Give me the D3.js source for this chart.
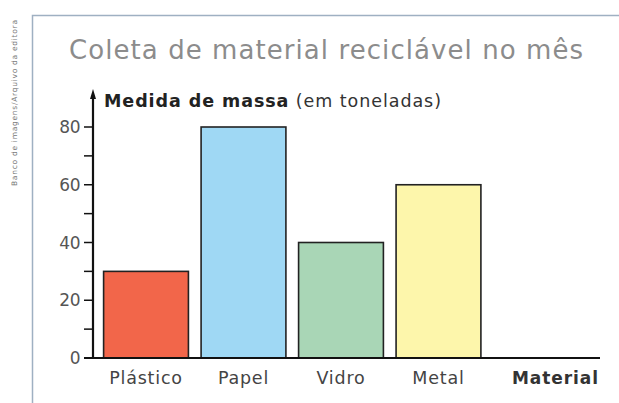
<!DOCTYPE html>
<html><head><meta charset="utf-8">
<script src="https://cdn.jsdelivr.net/npm/d3@7"></script>
<style>body{margin:0;background:#fff;}svg{display:block;}</style>
</head><body>
<script>
const categories = ["Plástico", "Papel", "Vidro", "Metal"];
const values = [30, 80, 40, 60];
const colors = ["#f2664a", "#9fd8f4", "#a9d6b6", "#fdf6ab"];
const yTicks = [0, 20, 40, 60, 80];
const yMinorTicks = [10, 30, 50, 70];
const title = "Coleta de material reciclável no mês";
const yTitleBold = "Medida de massa";
const yTitleRest = " (em toneladas)";
const xTitle = "Material";
const credit = "Banco de imagens/Arquivo da editora";

const W = 619, H = 403;
const svg = d3.select("body").append("svg").attr("width", W).attr("height", H);
const font = "'DejaVu Sans', 'Open Sans', sans-serif";

// frame
svg.append("path").attr("d", `M32.5,${H} V15.5 H${W}`).attr("fill", "none")
  .attr("stroke", "#9fb0c2").attr("stroke-width", 1.5);

// credit
svg.append("text").attr("transform", "translate(17,186) rotate(-90)")
  .attr("font-family", font).attr("font-size", 7.5).attr("fill", "#777")
  .attr("textLength", 166).text(credit);

// title
svg.append("text").attr("x", 326).attr("y", 59).attr("text-anchor", "middle")
  .attr("font-family", font).attr("font-size", 26).attr("fill", "#8c8c8c")
  .attr("textLength", 514).text(title);

const x = d3.scaleBand().domain(categories).range([103.6, 480.9]).paddingInner(0.13).paddingOuter(0);
const y = d3.scaleLinear().domain([0, 80]).range([358, 127]);

// bars
svg.append("g").selectAll("rect").data(categories).join("rect")
  .attr("x", d => x(d)).attr("width", x.bandwidth())
  .attr("y", (d, i) => y(values[i])).attr("height", (d, i) => y(0) - y(values[i]))
  .attr("fill", (d, i) => colors[i]).attr("stroke", "#222").attr("stroke-width", 1.6);

// y axis line with arrow
svg.append("line").attr("x1", 93).attr("x2", 93).attr("y1", y(0)).attr("y2", 97)
  .attr("stroke", "#111").attr("stroke-width", 2.2);
svg.append("path").attr("d", "M93,89 L96,99 L90,99 Z").attr("fill", "#111");

// y ticks
const yg = svg.append("g");
yg.selectAll("line.maj").data(yTicks).join("line")
  .attr("x1", 84).attr("x2", 93).attr("y1", d => y(d)).attr("y2", d => y(d))
  .attr("stroke", "#111").attr("stroke-width", 1.5);
yg.selectAll("line.min").data(yMinorTicks).join("line").attr("class", "min")
  .attr("x1", 84).attr("x2", 93).attr("y1", d => y(d)).attr("y2", d => y(d))
  .attr("stroke", "#111").attr("stroke-width", 1.5);
yg.selectAll("text").data(yTicks).join("text")
  .attr("x", 80).attr("y", d => y(d) + 6).attr("text-anchor", "end")
  .attr("font-family", font).attr("font-size", 17).attr("fill", "#555")
  .attr("letter-spacing", -0.5)
  .text(d => d);

// x axis line
svg.append("line").attr("x1", 84).attr("x2", 600).attr("y1", y(0)).attr("y2", y(0))
  .attr("stroke", "#111").attr("stroke-width", 2.2);

// x labels
svg.append("g").selectAll("text").data(categories).join("text")
  .attr("x", d => x(d) + x.bandwidth() / 2).attr("y", 384).attr("text-anchor", "middle")
  .attr("font-family", font).attr("font-size", 17.5).attr("fill", "#444")
  .attr("letter-spacing", 0.8)
  .text(d => d);

svg.append("text").attr("x", 598).attr("y", 384).attr("text-anchor", "end")
  .attr("font-family", font).attr("font-size", 17).attr("font-weight", "bold").attr("fill", "#333")
  .attr("textLength", 86)
  .text(xTitle);

// y title
const yt = svg.append("text").attr("x", 104).attr("y", 107)
  .attr("font-family", font).attr("font-size", 17.5).attr("fill", "#222")
  .attr("textLength", 337);
yt.append("tspan").attr("font-weight", "bold").text(yTitleBold);
yt.append("tspan").attr("fill", "#333").text(yTitleRest);
</script>
</body></html>
